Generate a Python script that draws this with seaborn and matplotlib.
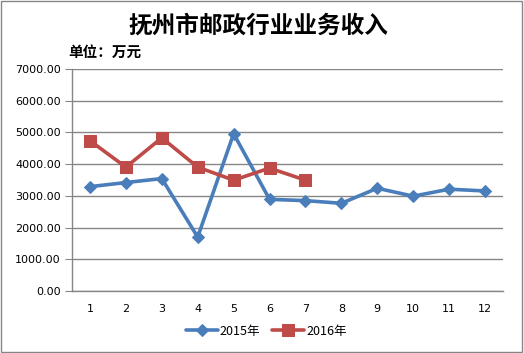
import numpy as np
import pandas as pd
import matplotlib
matplotlib.use("Agg")
import matplotlib.pyplot as plt
import seaborn as sns
from matplotlib.patches import Rectangle

months = list(range(1, 13))
sales_2015 = [3290, 3420, 3545, 1700, 4960, 2890, 2850, 2765, 3240, 2990, 3210, 3155]
months_2016 = list(range(1, 8))
sales_2016 = [4740, 3905, 4830, 3905, 3495, 3875, 3495]
series_names = ["2015年", "2016年"]
yticks = [0, 1000, 2000, 3000, 4000, 5000, 6000, 7000]

sns.set_style("white")
plt.rcParams['font.family'] = ['Noto Sans CJK SC', 'DejaVu Sans']
plt.rcParams['text.color'] = 'black'
plt.rcParams['xtick.color'] = 'black'
plt.rcParams['ytick.color'] = 'black'

df = pd.concat([
    pd.DataFrame({"month": months, "value": sales_2015, "series": series_names[0]}),
    pd.DataFrame({"month": months_2016, "value": sales_2016, "series": series_names[1]}),
])

fig = plt.figure(figsize=(5.24, 3.53), dpi=100)
ax = fig.add_axes([72/524, 1-291/353, (503-72)/524, (291-69)/353])

palette = {series_names[0]: "#4A7EBB", series_names[1]: "#BE4B48"}
markers = {series_names[0]: "D", series_names[1]: "s"}
for name, sub in df.groupby("series", sort=False):
    sns.lineplot(data=sub, x="month", y="value", ax=ax, color=palette[name],
                 marker=markers[name], markersize=6.5 if name == series_names[0] else 8.5,
                 markeredgecolor=palette[name], linewidth=2.6, label=name)

ax.set_xlim(0.5, 12.5)
ax.set_ylim(0, 7000)
ax.set_yticks(yticks)
ax.set_yticklabels([f"{v:.2f}" for v in yticks], fontsize=8, family=['DejaVu Sans'])
ax.yaxis.grid(True, color="#868686", linewidth=1)
ax.set_axisbelow(True)
ax.set_xticks(months)
ax.set_xticklabels([str(m) for m in months], fontsize=8, family=['DejaVu Sans'])
ax.tick_params(axis='x', length=0, pad=9)
ax.set_xticks(np.arange(0.5, 13, 1), minor=True)
ax.tick_params(axis='x', which='minor', length=5, color="#868686", direction='out')
ax.tick_params(axis='y', length=5, color="#868686", labelcolor="black", direction='out', left=True, pad=3)
for s in ["top", "right"]:
    ax.spines[s].set_visible(False)
for s in ["left", "bottom"]:
    ax.spines[s].set_color("#868686")
    ax.spines[s].set_linewidth(1)
ax.set_xlabel("")
ax.set_ylabel("")

leg = ax.legend(loc="center", bbox_to_anchor=(266/524, 1-331/353), bbox_transform=fig.transFigure,
                ncol=2, frameon=False, fontsize=9, handlelength=2.6, columnspacing=0.9,
                handletextpad=0.15)

fig.text(258/524, 1-25/353, "抚州市邮政行业业务收入", ha="center", va="center",
         fontsize=17, fontweight="bold", color="black")
fig.text(68/524, 1-52/353, "单位：万元", ha="left", va="center", fontsize=10.5,
         fontweight="bold", color="black")

fig.patches.append(Rectangle((0.002, 0.003), 0.995, 0.994, transform=fig.transFigure,
                             fill=False, edgecolor="#868686", linewidth=1))

fig.savefig("out.png", dpi=100)
